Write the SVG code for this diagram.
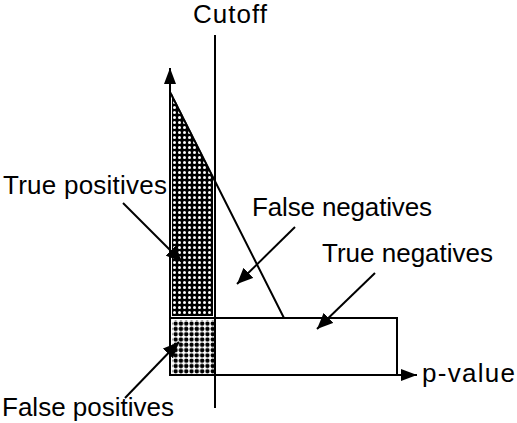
<svg xmlns="http://www.w3.org/2000/svg" width="517" height="423" viewBox="0 0 517 423">
<style>
.ln{stroke:#000;stroke-width:2;fill:none}
.lbl{font-family:"Liberation Sans",Arial,sans-serif;font-size:26px;fill:#000}
</style>
<defs>
<pattern id="pw" x="172" y="90" width="5" height="5" patternUnits="userSpaceOnUse">
<rect width="5" height="5" fill="#000"/>
<circle cx="2.5" cy="2.5" r="1.5" fill="#fff"/>
</pattern>
<pattern id="pb" x="173" y="321" width="5.3" height="5.3" patternUnits="userSpaceOnUse">
<circle cx="2.65" cy="2.65" r="2.2" fill="#000"/>
</pattern>
<marker id="axh" viewBox="0 0 16 12" refX="16" refY="6" markerWidth="16" markerHeight="12" markerUnits="userSpaceOnUse" orient="auto">
<path d="M0,0 L16,6 L0,12 Z" fill="#000"/>
</marker>
<marker id="arh" viewBox="0 0 16 14" refX="16" refY="7" markerWidth="16" markerHeight="14" markerUnits="userSpaceOnUse" orient="auto">
<path d="M0,0 L16,7 L0,14 Z" fill="#000"/>
</marker>
</defs>
<g id="true-positives-region">
<polygon points="172,94 213,176 213,316 172,316" fill="url(#pw)"/>
</g>
<g id="false-positives-region">
<rect x="172" y="320" width="42" height="54" fill="url(#pb)"/>
</g>
<g id="axes">
<line class="ln" x1="170" y1="376" x2="170" y2="68" marker-end="url(#axh)"/>
<line class="ln" x1="169" y1="375" x2="417" y2="375" marker-end="url(#axh)"/>
</g>
<g id="curve">
<polyline class="ln" points="170,92 284,318 170,318"/>
<polyline class="ln" points="284,318 397,318 397,375"/>
</g>
<g id="cutoff">
<line class="ln" x1="215" y1="35" x2="215" y2="408"/>
<text class="lbl" x="193" y="23" textLength="74">Cutoff</text>
</g>
<g id="connectors">
<line class="ln" x1="123" y1="203" x2="182" y2="262" marker-end="url(#arh)"/>
<line class="ln" x1="295" y1="227" x2="237" y2="284" marker-end="url(#arh)"/>
<line class="ln" x1="375" y1="273" x2="317" y2="329" marker-end="url(#arh)"/>
<line class="ln" x1="125" y1="398" x2="179" y2="342" marker-end="url(#arh)"/>
</g>
<g id="label-true-positives"><text class="lbl" x="3" y="194" textLength="164">True positives</text></g>
<g id="label-false-negatives"><text class="lbl" x="252" y="216" textLength="180">False negatives</text></g>
<g id="label-true-negatives"><text class="lbl" x="322" y="262" textLength="171">True negatives</text></g>
<g id="label-p-value"><text class="lbl" x="422" y="382" textLength="93">p-value</text></g>
<g id="label-false-positives"><text class="lbl" x="2" y="416" textLength="172">False positives</text></g>
</svg>
